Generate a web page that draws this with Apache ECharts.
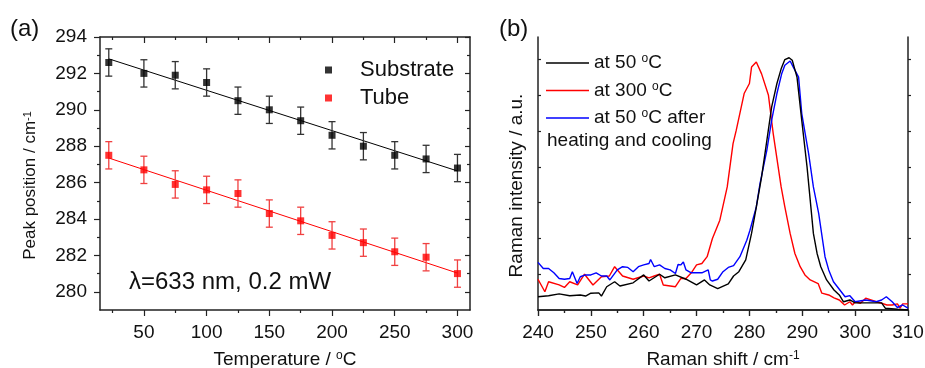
<!DOCTYPE html>
<html>
<head>
<meta charset="utf-8">
<script src="https://cdn.jsdelivr.net/npm/echarts@6/dist/echarts.min.js"></script>
<style>
  html, body { margin: 0; padding: 0; background: #fff; }
  #chart { width: 925px; height: 368px; }
</style>
</head>
<body>
<div id="chart"></div>
<script>
// (a) peak position vs temperature
var temps = [22, 50, 75, 100, 125, 150, 175, 200, 225, 250, 275, 300];
var substrate = [292.6, 292.0, 291.9, 291.5, 290.5, 290.0, 289.4, 288.6, 288.0, 287.5, 287.3, 286.8];
var tube = [287.5, 286.7, 285.9, 285.6, 285.4, 284.3, 283.9, 283.1, 282.7, 282.2, 281.9, 281.0];
var errSubstrate = [0.75, 0.75, 0.75, 0.75, 0.75, 0.75, 0.75, 0.75, 0.75, 0.75, 0.75, 0.75];
var errTube = [0.75, 0.75, 0.75, 0.75, 0.75, 0.75, 0.75, 0.75, 0.75, 0.75, 0.75, 0.75];
var fitSubstrate = [[22, 292.8], [300, 286.64]];
var fitTube = [[22, 287.35], [300, 281.03]];
var tempTicks = [50, 100, 150, 200, 250, 300];
var tempMinor = [25, 75, 125, 175, 225, 275];
var peakTicks = [280, 282, 284, 286, 288, 290, 292, 294];
var peakMinor = [281, 283, 285, 287, 289, 291, 293];

// (b) Raman spectra [shift, intensity]
var spec50 = [[240,0.37],[242,0.40],[244,0.45],[246,0.40],[248,0.42],[249,0.39],[250,0.47],[251.5,0.48],[252,0.39],[253,0.65],[254.5,0.79],[255.5,0.67],[258,0.76],[260,0.98],[261,0.81],[263,1.0],[264,0.90],[266,0.98],[268,0.86],[270,0.70],[271.5,0.84],[272.5,0.70],[274,0.60],[276,0.73],[277,0.95],[278,1.07],[279.3,1.40],[280.4,2.14],[281.2,2.79],[282.3,3.72],[283.3,4.74],[284.2,5.67],[285.2,6.33],[286,6.74],[286.7,7.0],[287.5,7.05],[288.1,6.98],[289,6.51],[289.9,5.30],[290.9,4.0],[292.1,2.14],[292.8,1.58],[293.5,1.21],[294.6,0.84],[296,0.56],[297,0.42],[297.8,0.23],[299,0.28],[300,0.20],[302,0.20],[304,0.20],[305,0.20],[305.7,0.05],[308,0.02],[310,0.0]];
var spec300 = [[240,0.86],[241.3,0.51],[242,0.79],[244,0.70],[245,0.63],[246,0.79],[247.5,0.70],[248.8,1.0],[250.4,0.70],[252,0.93],[253.5,0.95],[254.5,1.21],[256,0.95],[258,0.86],[260,0.95],[261,0.90],[262,0.95],[263,1.0],[263.7,0.70],[266,0.65],[267,0.88],[268,0.88],[269,1.04],[270,1.26],[271,1.30],[272,1.49],[273,2.0],[274.4,2.51],[275.8,3.44],[276.9,4.65],[277.5,5.02],[279,6.05],[280,6.33],[280.4,6.79],[281.3,6.93],[282.3,6.6],[283.6,6.0],[284.5,4.93],[286,3.44],[286.7,2.88],[287.7,2.14],[288.6,1.58],[289.6,1.21],[290.5,0.98],[291.5,0.84],[293,0.74],[293.7,0.47],[295,0.42],[296,0.34],[297,0.28],[298,0.14],[299,0.23],[299.5,0.14],[300,0.23],[301,0.19],[302,0.33],[303,0.28],[304,0.23],[305,0.19],[306,0.14],[307,0.14],[308,0.17],[308.5,0.05],[309,0.17],[310,0.17]];
var spec50after = [[240,1.33],[241,1.16],[242,1.16],[243,1.04],[244,0.88],[245,0.86],[246,0.88],[246.5,1.07],[247.4,0.74],[248,0.93],[249,0.98],[250,0.98],[251,1.04],[252,0.95],[253,0.95],[253.6,0.84],[255,1.12],[256,1.21],[257,1.19],[258,1.07],[259,1.21],[260,1.26],[261,1.30],[261.3,1.41],[262,1.21],[263,1.26],[264,1.16],[265,1.12],[266,1.02],[266.5,1.27],[267,1.26],[267.5,1.34],[268,1.12],[269,1.04],[270,1.04],[271,1.04],[272.2,1.12],[272.6,0.84],[273,0.81],[274,0.86],[275,1.07],[276,1.19],[277,1.24],[278.2,1.49],[279.5,1.95],[280.1,2.23],[281.3,2.88],[282,3.53],[283.3,4.47],[284.2,5.30],[285.2,6.05],[286.1,6.60],[286.7,6.84],[287.7,6.96],[288.3,6.79],[289.3,6.51],[289.9,5.49],[291.2,4.37],[292.1,3.44],[293.1,2.70],[294.3,1.49],[295,1.12],[295.9,0.79],[297,0.58],[298.1,0.37],[299,0.40],[300,0.23],[302,0.28],[304,0.23],[305,0.28],[305.9,0.37],[307,0.23],[308,0.07],[309,0.14],[310,0.05]];
var intensityTicks = [1, 2, 3, 4, 5, 6, 7];

var font = 'Liberation Sans, Arial, Helvetica, sans-serif';
var ink = '#111';
var frame = { show: true, lineStyle: { color: '#222', width: 1.5 } };
var supStyle = { fontSize: 12, fontFamily: font, color: ink, verticalAlign: 'top' };
var supSmall = { fontSize: 11, fontFamily: font, color: ink, verticalAlign: 'top' };

function errData(ys, errs) {
  return temps.map(function (t, i) { return [t, ys[i] - errs[i], ys[i] + errs[i]]; });
}
function errBars(color) {
  return function (params, api) {
    var lo = api.coord([api.value(0), api.value(1)]);
    var hi = api.coord([api.value(0), api.value(2)]);
    var w = 3.5;
    var st = { stroke: color, lineWidth: 1.3 };
    return {
      type: 'group',
      children: [
        { type: 'line', shape: { x1: lo[0], y1: lo[1], x2: hi[0], y2: hi[1] }, style: st },
        { type: 'line', shape: { x1: lo[0] - w, y1: lo[1], x2: lo[0] + w, y2: lo[1] }, style: st },
        { type: 'line', shape: { x1: hi[0] - w, y1: hi[1], x2: hi[0] + w, y2: hi[1] }, style: st }
      ]
    };
  };
}
function pairs(ys) { return temps.map(function (t, i) { return [t, ys[i]]; }); }

function plainAxis(extra) {
  var a = {
    type: 'value', splitLine: { show: false },
    axisLine: { show: false }, axisLabel: { show: false }, axisTick: { show: false }
  };
  for (var k in extra) a[k] = extra[k];
  return a;
}
function ticks(values, len, inside) {
  return { show: true, customValues: values, length: len, inside: inside, lineStyle: { color: '#222', width: 1.2 } };
}
var labelStyle = { show: true, fontSize: 19, fontFamily: font, color: ink };

var chart = echarts.init(document.getElementById('chart'));
chart.setOption({
  animation: false,
  backgroundColor: '#fff',
  title: [
    { text: '(a)', left: 5, top: 12, textStyle: { fontSize: 24, fontWeight: 'normal', fontFamily: font, color: ink } },
    { text: '(b)', left: 494, top: 12, textStyle: { fontSize: 24, fontWeight: 'normal', fontFamily: font, color: ink } }
  ],
  grid: [
    { left: 100, top: 37, width: 370, height: 273, outerBoundsMode: 'none' },
    { left: 538, top: 37, width: 370, height: 273, outerBoundsMode: 'none' }
  ],
  legend: [
    {
      data: ['Substrate', 'Tube'], orient: 'vertical', left: 320, top: 54,
      icon: 'rect', itemWidth: 7, itemHeight: 7, itemGap: 6,
      textStyle: { fontSize: 22, lineHeight: 22, fontFamily: font, color: ink, padding: [0, 0, 0, 23] }
    },
    {
      data: ['at 50 °C', 'at 300 °C', 'at 50 °C after'], orient: 'vertical', left: 541, top: 48,
      icon: 'rect', itemWidth: 43, itemHeight: 1.5, itemGap: 7.5,
      formatter: function (n) { return n.replace('°', '{sup|o}'); },
      textStyle: { fontSize: 19, lineHeight: 20, fontFamily: font, color: ink, rich: { sup: supStyle } }
    }
  ],
  graphic: [
    { type: 'text', left: 129, top: 270, style: { text: 'λ=633 nm, 0.2 mW', font: '24px ' + font, fill: ink } },
    { type: 'text', left: 547, top: 131, style: { text: 'heating and cooling', font: '19px ' + font, fill: ink } }
  ],
  xAxis: [
    plainAxis({
      gridIndex: 0, position: 'bottom', min: 15, max: 310, axisLine: frame,
      axisTick: ticks(tempTicks, 6, false),
      axisLabel: Object.assign({ customValues: tempTicks, margin: 13 }, labelStyle),
      name: 'Temperature / {sup|o}C', nameLocation: 'middle', nameGap: 40,
      nameTextStyle: { fontSize: 19, fontFamily: font, color: ink, rich: { sup: supStyle } }
    }),
    plainAxis({ gridIndex: 0, position: 'bottom', min: 15, max: 310, axisTick: ticks(tempMinor, 3, false) }),
    plainAxis({ gridIndex: 0, position: 'top', min: 15, max: 310, axisLine: frame, axisTick: ticks(tempTicks, 6, true) }),
    plainAxis({ gridIndex: 0, position: 'top', min: 15, max: 310, axisTick: ticks(tempMinor, 3, true) }),
    plainAxis({
      gridIndex: 1, position: 'bottom', min: 240, max: 310, interval: 10, axisLine: frame,
      axisTick: { show: true, length: 6, lineStyle: { color: '#222', width: 1.2 } },
      minorTick: { show: true, splitNumber: 2, length: 3, lineStyle: { color: '#222', width: 1.2 } },
      axisLabel: Object.assign({ margin: 13 }, labelStyle),
      name: 'Raman shift / cm{sup|-1}', nameLocation: 'middle', nameGap: 40,
      nameTextStyle: { fontSize: 19, fontFamily: font, color: ink, rich: { sup: supStyle } }
    }),
    plainAxis({
      gridIndex: 1, position: 'top', min: 240, max: 310, interval: 10, axisLine: frame,
      axisTick: { show: true, inside: true, length: 6, lineStyle: { color: '#222', width: 1.2 } },
      minorTick: { show: true, splitNumber: 2, length: 3, lineStyle: { color: '#222', width: 1.2 } }
    })
  ],
  yAxis: [
    plainAxis({
      gridIndex: 0, position: 'left', min: 279, max: 294, axisLine: frame,
      axisTick: ticks(peakTicks, 6, false),
      axisLabel: Object.assign({ customValues: peakTicks, margin: 13 }, labelStyle),
      name: 'Peak position / cm{sup|-1}', nameLocation: 'middle', nameGap: 61, nameRotate: 90,
      nameTextStyle: { fontSize: 17, fontFamily: font, color: ink, rich: { sup: supSmall }, padding: [0, 24, 0, 0] }
    }),
    plainAxis({ gridIndex: 0, position: 'left', min: 279, max: 294, axisTick: ticks(peakMinor, 3, false) }),
    plainAxis({ gridIndex: 0, position: 'right', min: 279, max: 294, axisLine: frame, axisTick: ticks(peakTicks, 5, true) }),
    plainAxis({ gridIndex: 0, position: 'right', min: 279, max: 294, axisTick: ticks(peakMinor, 3, true) }),
    plainAxis({
      gridIndex: 1, position: 'left', min: 0, max: 7.63, axisLine: frame,
      axisTick: ticks(intensityTicks, 3, true),
      name: 'Raman intensity / a.u.', nameLocation: 'middle', nameGap: 12, nameRotate: 90,
      nameTextStyle: { fontSize: 19, fontFamily: font, color: ink, padding: [0, 24, 0, 0] }
    }),
    plainAxis({ gridIndex: 1, position: 'right', min: 0, max: 7.63, axisLine: frame, axisTick: ticks(intensityTicks, 3, false) })
  ],
  series: [
    { type: 'line', xAxisIndex: 0, yAxisIndex: 0, data: fitSubstrate, symbol: 'none', lineStyle: { color: '#000', width: 1 }, z: 2 },
    { type: 'line', xAxisIndex: 0, yAxisIndex: 0, data: fitTube, symbol: 'none', lineStyle: { color: '#f00', width: 1 }, z: 2 },
    { type: 'custom', xAxisIndex: 0, yAxisIndex: 0, data: errData(substrate, errSubstrate), renderItem: errBars('#333'), encode: { x: 0, y: [1, 2] }, z: 3 },
    { type: 'custom', xAxisIndex: 0, yAxisIndex: 0, data: errData(tube, errTube), renderItem: errBars('#f04040'), encode: { x: 0, y: [1, 2] }, z: 3 },
    { name: 'Substrate', type: 'scatter', xAxisIndex: 0, yAxisIndex: 0, data: pairs(substrate), symbol: 'rect', symbolSize: 7, itemStyle: { color: '#000' }, z: 4 },
    { name: 'Tube', type: 'scatter', xAxisIndex: 0, yAxisIndex: 0, data: pairs(tube), symbol: 'rect', symbolSize: 7, itemStyle: { color: '#f00' }, z: 4 },
    { name: 'at 50 °C', type: 'line', xAxisIndex: 4, yAxisIndex: 4, data: spec50, symbol: 'none', color: '#000', lineStyle: { color: '#000', width: 1.4 }, z: 3 },
    { name: 'at 300 °C', type: 'line', xAxisIndex: 4, yAxisIndex: 4, data: spec300, symbol: 'none', color: '#f00', lineStyle: { color: '#f00', width: 1.4 }, z: 2 },
    { name: 'at 50 °C after', type: 'line', xAxisIndex: 4, yAxisIndex: 4, data: spec50after, symbol: 'none', color: '#00f', lineStyle: { color: '#00f', width: 1.4 }, z: 2 }
  ]
});
</script>
</body>
</html>
